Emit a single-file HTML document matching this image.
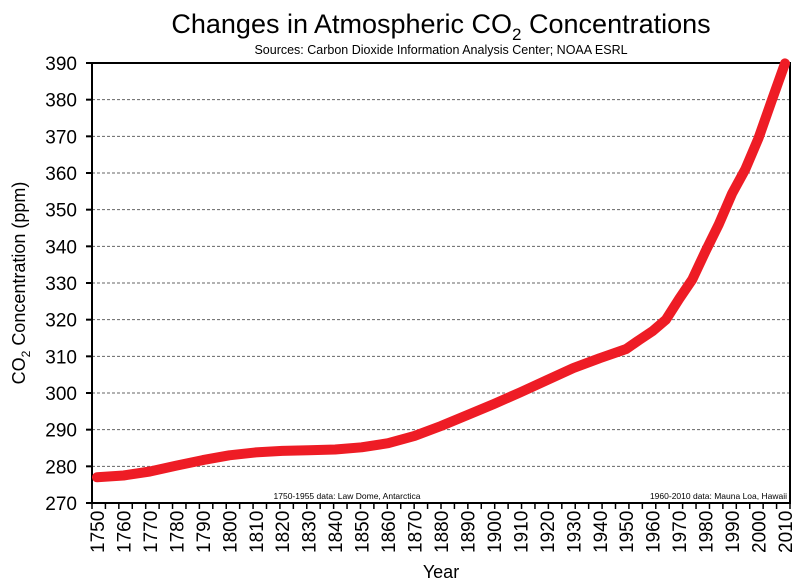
<!DOCTYPE html>
<html><head><meta charset="utf-8"><style>body{margin:0;background:#fff}svg{display:block;font-family:"Liberation Sans",Arial,sans-serif}</style></head>
<body>
<svg width="800" height="587" viewBox="0 0 800 587" xmlns="http://www.w3.org/2000/svg">
<rect width="800" height="587" fill="#fff"/>
<text x="441" y="33" font-size="27" text-anchor="middle">Changes in Atmospheric CO<tspan font-size="17" dy="7">2</tspan><tspan dy="-7"> Concentrations</tspan></text>
<text x="441" y="54" font-size="12.5" text-anchor="middle">Sources: Carbon Dioxide Information Analysis Center; NOAA ESRL</text>
<g id="grid" stroke="#666" stroke-width="1" stroke-dasharray="3,2">
</g>
<g id="yt" font-size="19" text-anchor="end"></g>
<g id="xt" font-size="19"></g>
<rect x="92" y="63" width="698" height="440" fill="none" stroke="#000" stroke-width="2"/>
<polyline id="line" fill="none" stroke="#ee1c25" stroke-width="10" stroke-linejoin="round" stroke-linecap="round"/>
<text x="347" y="499" font-size="8.5" text-anchor="middle">1750-1955 data: Law Dome, Antarctica</text>
<text x="787" y="499" font-size="8.5" text-anchor="end">1960-2010 data: Mauna Loa, Hawaii</text>
<text transform="translate(25,283) rotate(-90)" font-size="18" text-anchor="middle">CO<tspan font-size="12" dy="5">2</tspan><tspan dy="-5"> Concentration (ppm)</tspan></text>
<text x="441" y="578" font-size="18" text-anchor="middle">Year</text>
</svg>
<script>
var ns="http://www.w3.org/2000/svg";
function el(t,a,p,txt){var e=document.createElementNS(ns,t);for(var k in a)e.setAttribute(k,a[k]);if(txt!=null)e.textContent=txt;document.getElementById(p).appendChild(e);return e;}
function Y(v){return 503-(v-270)*440/120;}
for(var v=270;v<=390;v+=10){var y=Y(v);
 if(v>270&&v<390)el("line",{x1:92,x2:790,y1:y,y2:y},"grid");
 el("line",{x1:86,x2:92,y1:y,y2:y,stroke:"#000","stroke-width":2},"yt");
 el("text",{x:77,y:y+7},"yt",v);}
var x0=97,dx=(785-97)/26;
for(var i=0;i<=52;i++){var x=92+i*(698/52);el("line",{x1:x,x2:x,y1:503,y2:509,stroke:"#000","stroke-width":1.5},"xt");}
for(var i=0;i<=26;i++){var x=x0+i*dx;el("text",{transform:"translate("+(x+7)+",553) rotate(-90)"},"xt",1750+i*10);}
var d=[[1750,277],[1760,277.5],[1770,278.6],[1780,280.2],[1790,281.7],[1800,283],[1810,283.8],[1820,284.2],[1830,284.4],[1840,284.6],[1850,285.2],[1860,286.3],[1870,288.3],[1880,291],[1890,294],[1900,297],[1910,300.2],[1920,303.5],[1930,306.8],[1940,309.5],[1950,312],[1955,314.5],[1960,316.9],[1965,320],[1970,325.7],[1975,331],[1980,338.7],[1985,346],[1990,354.4],[1995,361],[2000,369.5],[2005,379.8],[2010,389.9]];
document.getElementById("line").setAttribute("points",d.map(function(p){return (x0+(p[0]-1750)/10*dx).toFixed(1)+","+Y(p[1]).toFixed(1)}).join(" "));
</script>
</body></html>
